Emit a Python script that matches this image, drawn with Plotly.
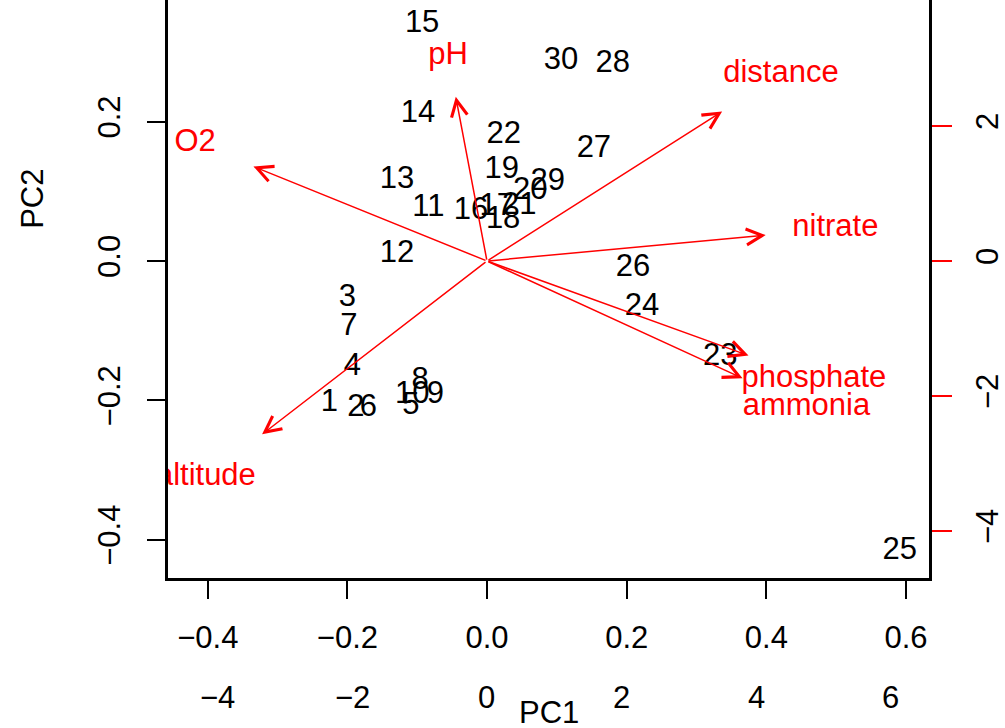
import plotly.graph_objects as go

# ---- data ----
site_labels = [str(i) for i in range(1, 31)]
pc1 = [-0.226, -0.188, -0.200, -0.193, -0.109, -0.170, -0.198, -0.096, -0.074, -0.107,
       -0.084, -0.129, -0.129, -0.099, -0.093, -0.023, 0.014, 0.023, 0.021, 0.062,
       0.046, 0.024, 0.334, 0.222, 0.591, 0.209, 0.153, 0.180, 0.087, 0.106]
pc2 = [-0.204, -0.211, -0.053, -0.153, -0.209, -0.211, -0.095, -0.173, -0.192, -0.192,
       0.075, 0.009, 0.116, 0.211, 0.340, 0.072, 0.077, 0.059, 0.130, 0.100,
       0.079, 0.181, -0.138, -0.067, -0.417, -0.011, 0.161, 0.282, 0.113, 0.287]

var_names = ["altitude", "distance", "pH", "O2", "nitrate", "ammonia", "phosphate"]
load1 = [-4.18, 4.37, -0.58, -4.34, 5.18, 4.75, 4.86]
load2 = [-3.21, 2.77, 3.04, 1.75, 0.48, -2.17, -1.75]
arrow_scale = 0.8

x_ticks = [-0.4, -0.2, 0.0, 0.2, 0.4, 0.6]
x_ticktext = ["\u22120.4", "\u22120.2", "0.0", "0.2", "0.4", "0.6"]
y_ticks = [-0.4, -0.2, 0.0, 0.2]
y_ticktext = ["\u22120.4", "\u22120.2", "0.0", "0.2"]
x2_ticks = [-4, -2, 0, 2, 4, 6]
x2_ticktext = ["\u22124", "\u22122", "0", "2", "4", "6"]
y2_ticks = [-4, -2, 0, 2]
y2_ticktext = ["\u22124", "\u22122", "0", "2"]

FONT = "Liberation Sans, Arial, Helvetica, sans-serif"
FS = 31

fig = go.Figure()

fig.add_trace(go.Scatter(
    x=pc1, y=pc2, text=site_labels, mode="text",
    textposition="middle center",
    textfont=dict(family=FONT, size=FS, color="black"),
    xaxis="x", yaxis="y", showlegend=False, hoverinfo="skip", cliponaxis=True))

fig.add_trace(go.Scatter(
    x=load1, y=load2, text=var_names, mode="text",
    textposition="middle center",
    textfont=dict(family=FONT, size=FS, color="#ff0000"),
    xaxis="x2", yaxis="y2", showlegend=False, hoverinfo="skip", cliponaxis=True))

annotations = []
for lx, ly in zip(load1, load2):
    annotations.append(dict(
        x=lx * arrow_scale, y=ly * arrow_scale, xref="x2", yref="y2",
        ax=0, ay=0, axref="x2", ayref="y2",
        showarrow=True, arrowhead=5, arrowsize=2.1, arrowwidth=1.5,
        arrowcolor="#ff0000", text=""))

for v, t in zip(x2_ticks, x2_ticktext):
    annotations.append(dict(x=v, y=-0.206, xref="x2", yref="paper", text=t,
                            showarrow=False, xanchor="center", yanchor="middle",
                            font=dict(family=FONT, size=FS, color="black")))

annotations.append(dict(x=0.5, y=-0.232, xref="paper", yref="paper", text="PC1",
                        showarrow=False, xanchor="center", yanchor="middle",
                        font=dict(family=FONT, size=FS, color="black")))
annotations.append(dict(x=-0.1774, y=0.656, xref="paper", yref="paper", text="PC2",
                        showarrow=False, xanchor="center", yanchor="middle", textangle=-90,
                        font=dict(family=FONT, size=FS, color="black")))

fig.update_layout(
    width=1005, height=728,
    margin=dict(l=168, r=76, t=0, b=150),
    paper_bgcolor="white", plot_bgcolor="white",
    showlegend=False,
    annotations=annotations,
    xaxis=dict(range=[-0.457, 0.633], tickvals=x_ticks, ticktext=x_ticktext,
               ticks="outside", ticklen=18, tickwidth=2, tickcolor="black",
               showline=True, linecolor="black", linewidth=2.5,
               showgrid=False, zeroline=False, ticklabelstandoff=12,
               tickfont=dict(family=FONT, size=FS, color="black")),
    yaxis=dict(range=[-0.4548, 0.3745], tickvals=y_ticks, ticktext=y_ticktext,
               ticks="outside", ticklen=18, tickwidth=2, tickcolor="black",
               showline=True, linecolor="black", linewidth=2.5, tickangle=-90,
               showgrid=False, zeroline=False, ticklabelstandoff=15,
               tickfont=dict(family=FONT, size=FS, color="black")),
    xaxis2=dict(range=[-4.743, 6.572], overlaying="x", side="bottom", anchor="y",
                showticklabels=False, ticks="", showline=False, showgrid=False,
                zeroline=False),
    yaxis2=dict(range=[-4.696, 3.867], overlaying="y", side="right", anchor="x",
                tickvals=y2_ticks, ticktext=y2_ticktext,
                ticks="outside", ticklen=20, tickwidth=2, tickcolor="#ff0000",
                showline=True, linecolor="black", linewidth=2.5, tickangle=-90,
                showgrid=False, zeroline=False, ticklabelstandoff=9,
                tickfont=dict(family=FONT, size=FS, color="black")),
)

fig.write_html("out.html")
